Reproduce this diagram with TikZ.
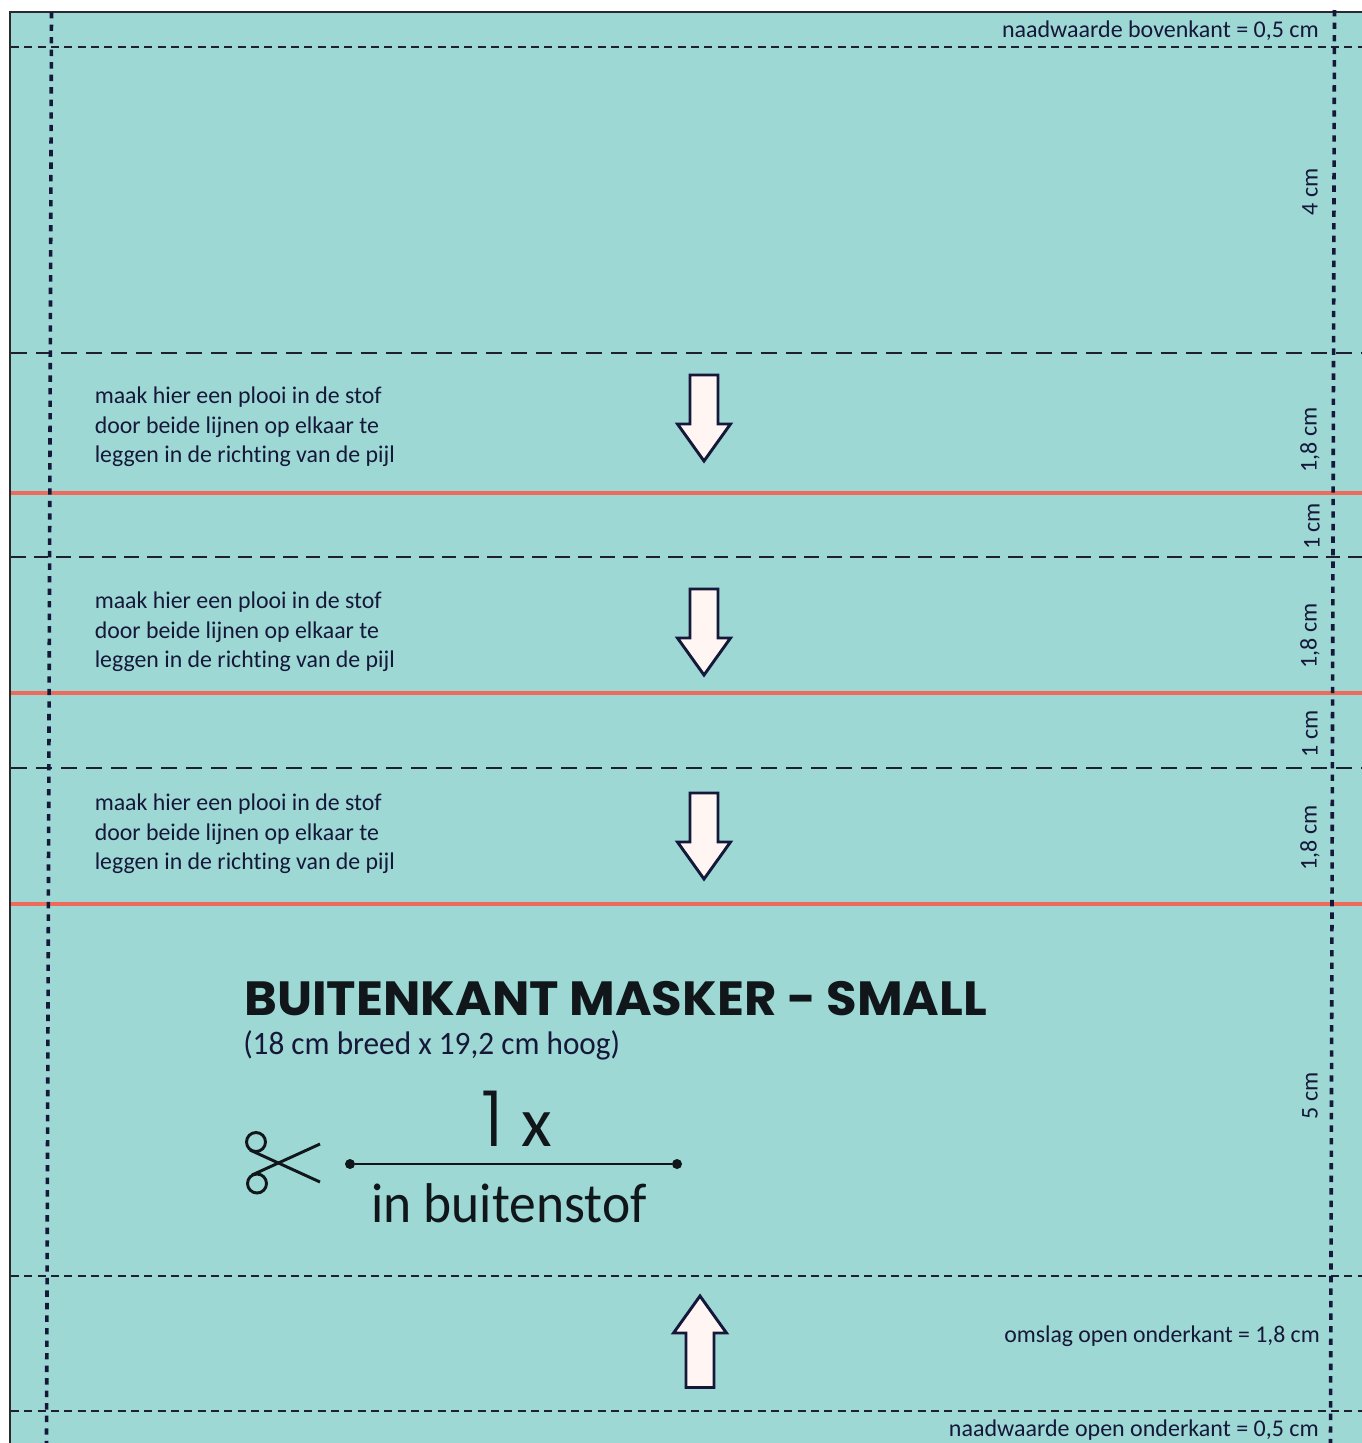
\documentclass[tikz,border=0pt]{standalone}
\usepackage{fontspec}
\setmainfont{Carlito}[Ligatures=CommonOff]
\newfontfamily\headfont{Poppins}
\newfontfamily\lightfont{Poppins Light}
\definecolor{bgc}{HTML}{9DD8D5}
\definecolor{navy}{HTML}{16183A}
\definecolor{ink}{HTML}{1E2030}
\definecolor{redl}{HTML}{EE6B5B}
\definecolor{arrowfill}{HTML}{FFF6F3}
\definecolor{blk}{HTML}{10161A}
\definecolor{edgec}{HTML}{2A2A2E}
\tikzset{
 x=0.75pt,y=-0.75pt,
 longdash/.style={draw=ink,line width=1.5pt,dash pattern=on 12pt off 6.75pt},
 middash/.style={draw=ink,line width=1.5pt,dash pattern=on 11pt off 6pt},
 finedash/.style={draw=ink,line width=1.5pt,dash pattern=on 6pt off 4pt},
 vdash/.style={draw=navy,line width=2.7pt,dash pattern=on 4.8pt off 4.6pt},
 redline/.style={draw=redl,line width=3.2pt},
 pijl/.style={draw=navy,line width=2.2pt,fill=arrowfill,miter limit=10},
 small/.style={text=navy,font=\fontsize{18}{21.8}\selectfont,inner sep=0pt},
 note/.style={small,anchor=north west,align=left,xscale=0.993},
 side/.style={small,rotate=90,anchor=center},
}
\newcommand{\downarrowshape}[2]{%
 \draw[pijl] (#1-14,#2) -- (#1+14,#2) -- (#1+14,#2+49) -- (#1+26.5,#2+49) -- (#1,#2+86) -- (#1-26.5,#2+49) -- (#1-14,#2+49) -- cycle;}
\begin{document}
\begin{tikzpicture}
\useasboundingbox (0,0) rectangle (1362,1443);
\fill[bgc] (10,12) rectangle (1362,1443);
\draw[edgec,line width=1.9pt] (10,1443) -- (10,12) -- (1362,12);
% horizontal fold lines
\draw[finedash] (11,47) -- (1362,47);
\draw[longdash] (11,353) -- (1362,353);
\draw[middash] (11,557) -- (1362,557);
\draw[longdash] (11,768) -- (1362,768);
\draw[finedash] (11,1276) -- (1362,1276);
\draw[finedash] (11,1411) -- (1362,1411);
\foreach \yy in {493,693,904} \draw[redline] (11,\yy) -- (1362,\yy);
% vertical seam lines
\draw[vdash] (51.5,12) -- (46.5,1443);
\draw[vdash] (1334.5,10) -- (1330.5,1443);
% arrows
\downarrowshape{704}{375}
\downarrowshape{704}{589}
\downarrowshape{704}{793}
\draw[pijl] (686,1387.5) -- (714,1387.5) -- (714,1333) -- (726.5,1333) -- (700,1296) -- (673.5,1333) -- (686,1333) -- cycle;
% notes
\foreach \nm/\yy in {a/387,b/592,c/794}
 \node[note] (note\nm) at (94.5,\yy) {maak hier een plooi in de stof\\door beide lijnen op elkaar te\\leggen in de richting van de pijl};
\node[small,anchor=base east] (top) at (1319,37) {naadwaarde bovenkant = 0,5 cm};
\node[small,anchor=base east,xscale=0.99] (omslag) at (1320,1342) {omslag open onderkant = 1,8 cm};
\node[small,anchor=base east] (bottom) at (1319,1436) {naadwaarde open onderkant = 0,5 cm};
\node[side] (m1) at (1310,192) {4 cm};
\node[side] (m2) at (1310,440) {1,8 cm};
\node[side] (m3) at (1312,526.5) {1 cm};
\node[side] (m4) at (1310,636) {1,8 cm};
\node[side] (m5) at (1310,734) {1 cm};
\node[side] (m6) at (1310,838) {1,8 cm};
\node[side] (m7) at (1310,1096) {5 cm};
% title
\node[anchor=base west,inner sep=0pt,text=blk,xscale=1.037,font=\headfont\bfseries\fontsize{36}{40}\selectfont] (title) at (244,1015) {BUITENKANT MASKER - SMALL};
\node[anchor=base west,inner sep=0pt,text=navy,xscale=0.957,font=\fontsize{24.5}{26}\selectfont] (sub) at (243,1054) {(18 cm breed x 19,2 cm hoog)};
\node[anchor=base west,inner sep=0pt,text=blk,font=\lightfont\fontsize{58}{62}\selectfont] (one) at (481,1146) {1\kern 13pt{\rmfamily\fontsize{53}{55}\selectfont x}};
\node[anchor=base,inner sep=0pt,text=blk,xscale=0.955,font=\fontsize{42}{46}\selectfont] (stof) at (509,1222) {in buitenstof};
% cut line
\node[circle,fill=blk,minimum size=7.5pt,inner sep=0pt] (d1) at (350,1164) {};
\node[circle,fill=blk,minimum size=7.5pt,inner sep=0pt] (d2) at (677,1164) {};
\draw[blk,line width=2.2pt] (d1) -- (d2);
% scissors
\draw[blk,line width=2.2pt] (256,1142) circle (9.5);
\draw[blk,line width=2.2pt] (257,1183.5) circle (9.5);
\draw[blk,line width=2.2pt] (250,1150) -- (320,1182);
\draw[blk,line width=2.2pt] (252,1175) -- (320,1144);
\end{tikzpicture}
\end{document}
